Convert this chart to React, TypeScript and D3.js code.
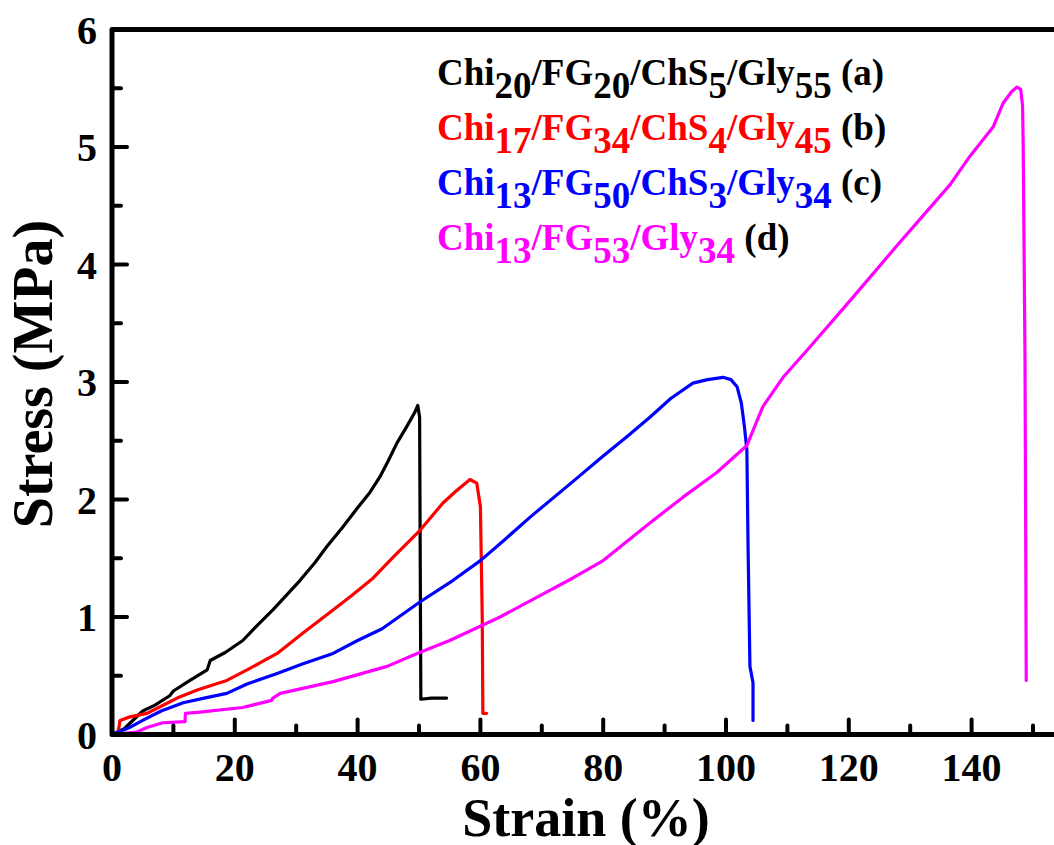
import React from "react";
import * as d3 from "d3";

// ---- data ----
const strainA = [0, 2, 3, 5, 7, 9.4, 10, 12.7, 15.5, 16, 18.5, 21.3, 23.5, 26.2, 28.5, 30.6, 33, 35, 37.5, 40, 42, 43.6, 45, 46.4, 48, 49.3, 49.8, 50.1, 50.2, 50.3, 52, 54.5];
const stressA = [0, 0.05, 0.1, 0.2, 0.25, 0.33, 0.37, 0.46, 0.55, 0.63, 0.7, 0.8, 0.92, 1.06, 1.19, 1.31, 1.46, 1.6, 1.76, 1.93, 2.06, 2.19, 2.33, 2.48, 2.62, 2.74, 2.8, 2.7, 1.5, 0.3, 0.31, 0.31];

const strainB = [0, 1.0, 1.3, 2.9, 5.7, 8, 10.6, 14, 18.7, 22, 26.9, 31, 36, 39, 42.5, 46, 50.2, 53.9, 56, 58.3, 59.4, 60, 60.3, 60.4, 60.5, 61];
const stressB = [0, 0.02, 0.12, 0.15, 0.18, 0.24, 0.31, 0.38, 0.46, 0.55, 0.69, 0.86, 1.06, 1.18, 1.33, 1.52, 1.74, 1.97, 2.07, 2.17, 2.14, 1.94, 1.0, 0.18, 0.18, 0.18];

const strainC = [0, 2.9, 5, 8, 11.6, 15, 18.7, 22, 26.9, 31, 36, 40, 44, 50.2, 55.5, 60, 64, 68.1, 75, 80, 84, 87.6, 91, 94.6, 97, 99.5, 100.8, 101.8, 102.5, 103, 103.4, 103.6, 103.9, 104.4, 104.4];
const stressC = [0, 0.06, 0.12, 0.2, 0.27, 0.31, 0.35, 0.43, 0.52, 0.6, 0.69, 0.8, 0.9, 1.13, 1.31, 1.48, 1.66, 1.85, 2.15, 2.37, 2.54, 2.7, 2.86, 2.99, 3.02, 3.04, 3.02, 2.96, 2.82, 2.62, 2.42, 1.57, 0.58, 0.44, 0.12];

const strainD = [0, 4, 5.7, 8.3, 11.9, 11.95, 14.3, 21.3, 26, 26.2, 27.4, 36, 44.8, 49.7, 55, 63.2, 70, 75, 80, 87.6, 93, 98.5, 103.4, 106, 109.3, 113.2, 120, 128, 136.5, 139.7, 143.5, 145.1, 146.5, 147.4, 148.0, 148.3, 148.4, 148.7, 148.9];
const stressD = [0, 0.02, 0.06, 0.1, 0.11, 0.18, 0.19, 0.23, 0.29, 0.31, 0.35, 0.45, 0.58, 0.69, 0.8, 1.0, 1.19, 1.33, 1.48, 1.8, 2.02, 2.23, 2.46, 2.79, 3.04, 3.27, 3.68, 4.17, 4.68, 4.92, 5.17, 5.37, 5.47, 5.51, 5.49, 5.35, 5.03, 3.19, 0.46];

const seriesColors = ["#000000", "#ff0000", "#0000ff", "#ff00ff"];
const xTicks = [0, 20, 40, 60, 80, 100, 120, 140];
const xMinorTicks = [10, 30, 50, 70, 90, 110, 130, 150];
const yTicks = [0, 1, 2, 3, 4, 5, 6];
const yMinorTicks = [0.5, 1.5, 2.5, 3.5, 4.5, 5.5];

// legend: [text, isSub] pieces
const legendA: [string, boolean][] = [["Chi", false], ["20", true], ["/FG", false], ["20", true], ["/ChS", false], ["5", true], ["/Gly", false], ["55", true]];
const legendB: [string, boolean][] = [["Chi", false], ["17", true], ["/FG", false], ["34", true], ["/ChS", false], ["4", true], ["/Gly", false], ["45", true]];
const legendC: [string, boolean][] = [["Chi", false], ["13", true], ["/FG", false], ["50", true], ["/ChS", false], ["3", true], ["/Gly", false], ["34", true]];
const legendD: [string, boolean][] = [["Chi", false], ["13", true], ["/FG", false], ["53", true], ["/Gly", false], ["34", true]];
const legendTags = ["(a)", "(b)", "(c)", "(d)"];

export default function App() {
  const W = 1054, H = 845;
  const x0 = 112, y0 = 734.5, yTop = 29.5;
  const x = d3.scaleLinear().domain([0, 160]).range([x0, x0 + 160 * 6.14]);
  const y = d3.scaleLinear().domain([0, 6]).range([y0, yTop]);
  const line = d3.line<[number, number]>().x(d => x(d[0])).y(d => y(d[1])).curve(d3.curveLinear);

  const series = [
    d3.zip(strainA, stressA),
    d3.zip(strainB, stressB),
    d3.zip(strainC, stressC),
    d3.zip(strainD, stressD),
  ] as [number, number][][];
  const legends = [legendA, legendB, legendC, legendD];
  const font = "'Liberation Serif', 'Times New Roman', serif";

  return (
    <svg width={W} height={H} style={{ position: "absolute", left: 0, top: 0, background: "#fff" }} fontFamily={font} fontWeight="bold">
      {/* curves */}
      {series.map((s, i) => (
        <path key={i} d={line(s) || ""} fill="none" stroke={seriesColors[i]} strokeWidth={3.2} strokeLinejoin="round" strokeLinecap="round" />
      ))}
      {/* ticks */}
      {xTicks.filter(t => t > 0).map(t => (
        <line key={"xt" + t} x1={x(t)} x2={x(t)} y1={y0} y2={y0 - 15} stroke="#000" strokeWidth={4} strokeLinecap="round" />
      ))}
      {xMinorTicks.map(t => (
        <line key={"xm" + t} x1={x(t)} x2={x(t)} y1={y0} y2={y0 - 9} stroke="#000" strokeWidth={4} strokeLinecap="round" />
      ))}
      {yTicks.filter(t => t > 0 && t < 6).map(t => (
        <line key={"yt" + t} x1={x0} x2={x0 + 15} y1={y(t)} y2={y(t)} stroke="#000" strokeWidth={4} strokeLinecap="round" />
      ))}
      {yMinorTicks.map(t => (
        <line key={"ym" + t} x1={x0} x2={x0 + 9} y1={y(t)} y2={y(t)} stroke="#000" strokeWidth={4} strokeLinecap="round" />
      ))}
      {/* frame */}
      <path d={`M${x0 + 160 * 6.14},${y0} L${x0},${y0} L${x0},${yTop} L${x0 + 160 * 6.14},${yTop}`} fill="none" stroke="#000" strokeWidth={5} strokeLinejoin="round" />
      {/* tick labels */}
      {xTicks.map(t => (
        <text key={"xl" + t} x={x(t)} y={781} textAnchor="middle" fontSize={40}>{t}</text>
      ))}
      {yTicks.map(t => (
        <text key={"yl" + t} x={97} y={y(t)} dy="0.35em" textAnchor="end" fontSize={40}>{t}</text>
      ))}
      {/* axis titles */}
      <text x={586} y={836} textAnchor="middle" fontSize={54}>Strain (%)</text>
      <text transform={`translate(52,${374}) rotate(-90)`} textAnchor="middle" fontSize={56}>Stress (MPa)</text>
      {/* legend */}
      {legends.map((parts, i) => (
        <text key={"lg" + i} x={437} y={85 + i * 55} fontSize={37}>
          {parts.map((p, j) => (
            <tspan key={j} fill={seriesColors[i]} dy={p[1] ? 13 : (j > 0 ? -13 : 0)}>{p[0]}</tspan>
          ))}
          <tspan fill="#000" dy={-13}>{"\u00a0" + legendTags[i]}</tspan>
        </text>
      ))}
    </svg>
  );
}
